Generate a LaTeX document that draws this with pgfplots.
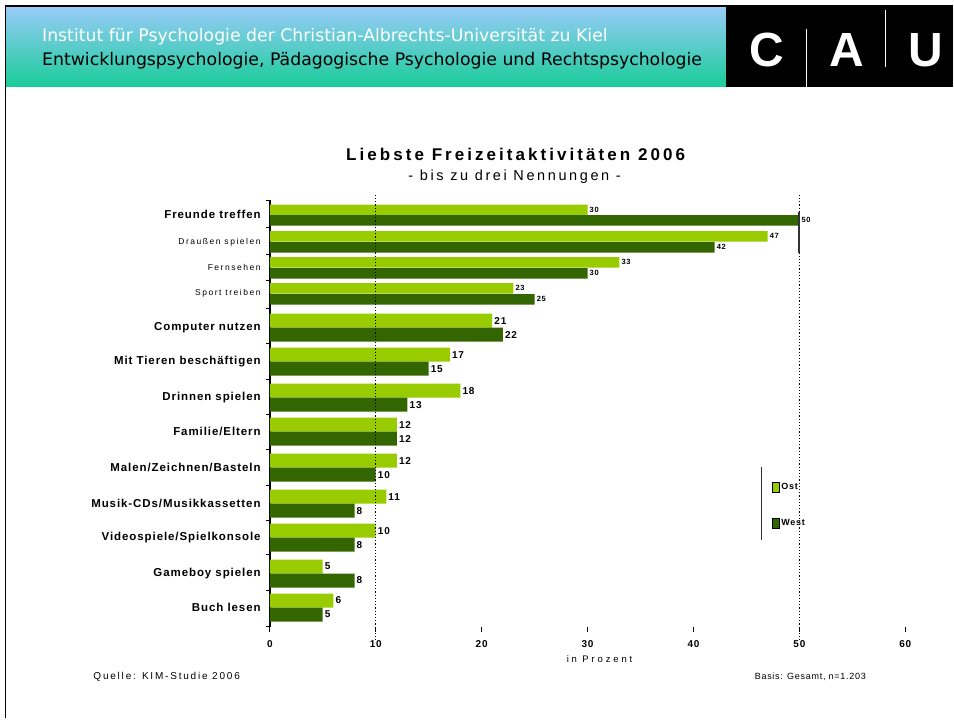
\documentclass[border=0pt]{standalone}
\usepackage{pgfplots}
\pgfplotsset{compat=1.18}
\usepackage{pgfplotstable}
\usepackage{fontspec}
\setmainfont{Liberation Sans}
\newfontfamily\hdr{DejaVu Sans}
\newfontfamily\spc[LetterSpace=8]{Liberation Sans}
\newfontfamily\spt[LetterSpace=18]{Liberation Sans}
\newfontfamily\spw[LetterSpace=30]{Liberation Sans}
\definecolor{ost}{HTML}{99CC00}
\definecolor{west}{HTML}{336600}
\definecolor{hblue}{HTML}{99CCFA}
\definecolor{hgreen}{HTML}{19CC99}
\newcommand\lab{\spc\bfseries\fontsize{11.5}{12}\selectfont}
\newcommand\sm{\spt\mdseries\fontsize{8.5}{9}\selectfont}

% y = minus pixel row of bar centre
% top four categories (narrower bars)
\pgfplotstableread{
y v
-210 30
-236.5 47
-262.5 33
-288.5 23
}\osttop
\pgfplotstableread{
y v
-220.5 50
-247.5 42
-273.5 30
-299.5 25
}\westtop
% remaining categories
\pgfplotstableread{
y v
-321 21
-355 17
-391 18
-425 12
-461 12
-497 11
-531 10
-567 5
-601 6
}\ostrest
\pgfplotstableread{
y v
-335 22
-369 15
-405 13
-439 12
-475 10
-511 8
-545 8
-581 8
-615 5
}\westrest

\begin{document}
\begin{tikzpicture}[x=1pt,y=1pt]
\fill[white] (0,0) rectangle (954,719);
% header
\shade[top color=hblue, bottom color=hgreen] (6,713) rectangle (727,632);
\fill[black] (727,713) rectangle (954,632);
\draw[line width=1.5pt] (5.5,0) -- (5.5,713) -- (954,713);
\node[anchor=base west, text=white, inner sep=0pt, font=\hdr\fontsize{17.3}{17}\selectfont] at (42,677) {Institut für Psychologie der Christian-Albrechts-Universität zu Kiel};
\node[anchor=base west, text=black, inner sep=0pt, font=\hdr\fontsize{17.3}{17}\selectfont] at (42,653) {Entwicklungspsychologie, Pädagogische Psychologie und Rechtspsychologie};
\node[anchor=base, text=white, inner sep=0pt, font=\bfseries\fontsize{48}{48}\selectfont] at (767,652) {C};
\node[anchor=base, text=white, inner sep=0pt, font=\bfseries\fontsize{48}{48}\selectfont] at (847,652) {A};
\node[anchor=base, text=white, inner sep=0pt, font=\bfseries\fontsize{48}{48}\selectfont] at (927,652) {U};
\draw[white, line width=1pt] (807,690) -- (807,632);
\draw[white, line width=1pt] (886,709) -- (886,652);
% titles
\node[font=\spt\bfseries\fontsize{17}{17}\selectfont] at (516,564) {Liebste Freizeitaktivitäten 2006};
\node[font=\spt\fontsize{14.5}{15}\selectfont] at (515,542) {- bis zu drei Nennungen -};
\node[font=\spw\fontsize{9.5}{10}\selectfont] at (600,59) {in Prozent};
\node[anchor=west, font=\spt\fontsize{10}{10}\selectfont] at (90,42) {Quelle: KIM-Studie 2006};
\node[anchor=east, font=\spc\fontsize{9}{10}\selectfont] at (870,42) {Basis: Gesamt, n=1.203};

\begin{axis}[
  at={(270pt,92pt)}, anchor=south west,
  width=636pt, height=427pt, scale only axis,
  xmin=0, xmax=60, ymin=-627, ymax=-200,
  xbar, bar shift=0pt,
  axis x line*=bottom, x axis line style={draw=none},
  axis y line*=left, y axis line style={line width=1.5pt},
  xtick={0,10,...,60},
  tick align=outside,
  major x tick style={black, line width=1pt},
  major tick length=5pt,
  /pgf/number format/assume math mode=true,
  xticklabel style={font=\spc\bfseries\fontsize{10}{10}\selectfont, yshift=-5pt},
  ytick={-215,-242,-268,-294,-328,-362,-398,-432,-468,-504,-538,-574,-608},
  yticklabels={{Freunde treffen},{\sm Draußen spielen},{\sm Fernsehen},{\sm Sport treiben},
    {Computer nutzen},{Mit Tieren beschäftigen},{Drinnen spielen},{Familie/Eltern},
    {Malen/Zeichnen/Basteln},{Musik-CDs/Musikkassetten},{Videospiele/Spielkonsole},
    {Gameboy spielen},{Buch lesen}},
  yticklabel style={font=\lab, inner sep=1pt, xshift=-3pt},
  major y tick style={draw=none},
  minor ytick={-201,-228,-255,-281,-309,-344,-380,-415,-450,-486,-521,-555,-591,-627},
  minor y tick style={black, line width=1pt},
  minor tick length=4pt,
  clip=false,
  point meta=x,
  legend style={at={(axis cs:47.4,-481)}, anchor=north west, draw=none, fill=none,
    font=\spc\bfseries\fontsize{9}{9}\selectfont, row sep=25pt, inner sep=0pt},
  legend cell align=left,
  legend image code/.code={\fill[#1] (0pt,-5pt) rectangle (7pt,5pt);},
]
\addlegendimage{fill=ost}
\addlegendentry{Ost}
\addlegendimage{fill=west}
\addlegendentry{West}

\addplot[forget plot, fill=ost, draw=none, bar width=10.5,
  nodes near coords, nodes near coords style={font=\spc\bfseries\fontsize{7.5}{7.5}\selectfont, anchor=west, inner sep=2pt}]
  table[x=v, y=y] {\osttop};
\addplot[forget plot, fill=west, draw=none, bar width=10.5,
  nodes near coords, nodes near coords style={font=\spc\bfseries\fontsize{7.5}{7.5}\selectfont, anchor=west, inner sep=2pt}]
  table[x=v, y=y] {\westtop};
\addplot[forget plot, fill=ost, draw=none, bar width=14,
  nodes near coords, nodes near coords style={font=\spc\bfseries\fontsize{10}{10}\selectfont, anchor=west, inner sep=2pt}]
  table[x=v, y=y] {\ostrest};
\addplot[forget plot, fill=west, draw=none, bar width=14,
  nodes near coords, nodes near coords style={font=\spc\bfseries\fontsize{10}{10}\selectfont, anchor=west, inner sep=2pt}]
  table[x=v, y=y] {\westrest};

\draw[dotted, line width=1.2pt] (axis cs:10,-195) -- (axis cs:10,-640);
\draw[dotted, line width=1.2pt] (axis cs:50,-195) -- (axis cs:50,-640);
\draw[line width=1.8pt, black!80] (axis cs:50,-212) -- (axis cs:50,-253);
\draw[line width=1.5pt, black!80] (axis cs:46.4,-467) -- (axis cs:46.4,-540);
\end{axis}
\end{tikzpicture}
\end{document}
